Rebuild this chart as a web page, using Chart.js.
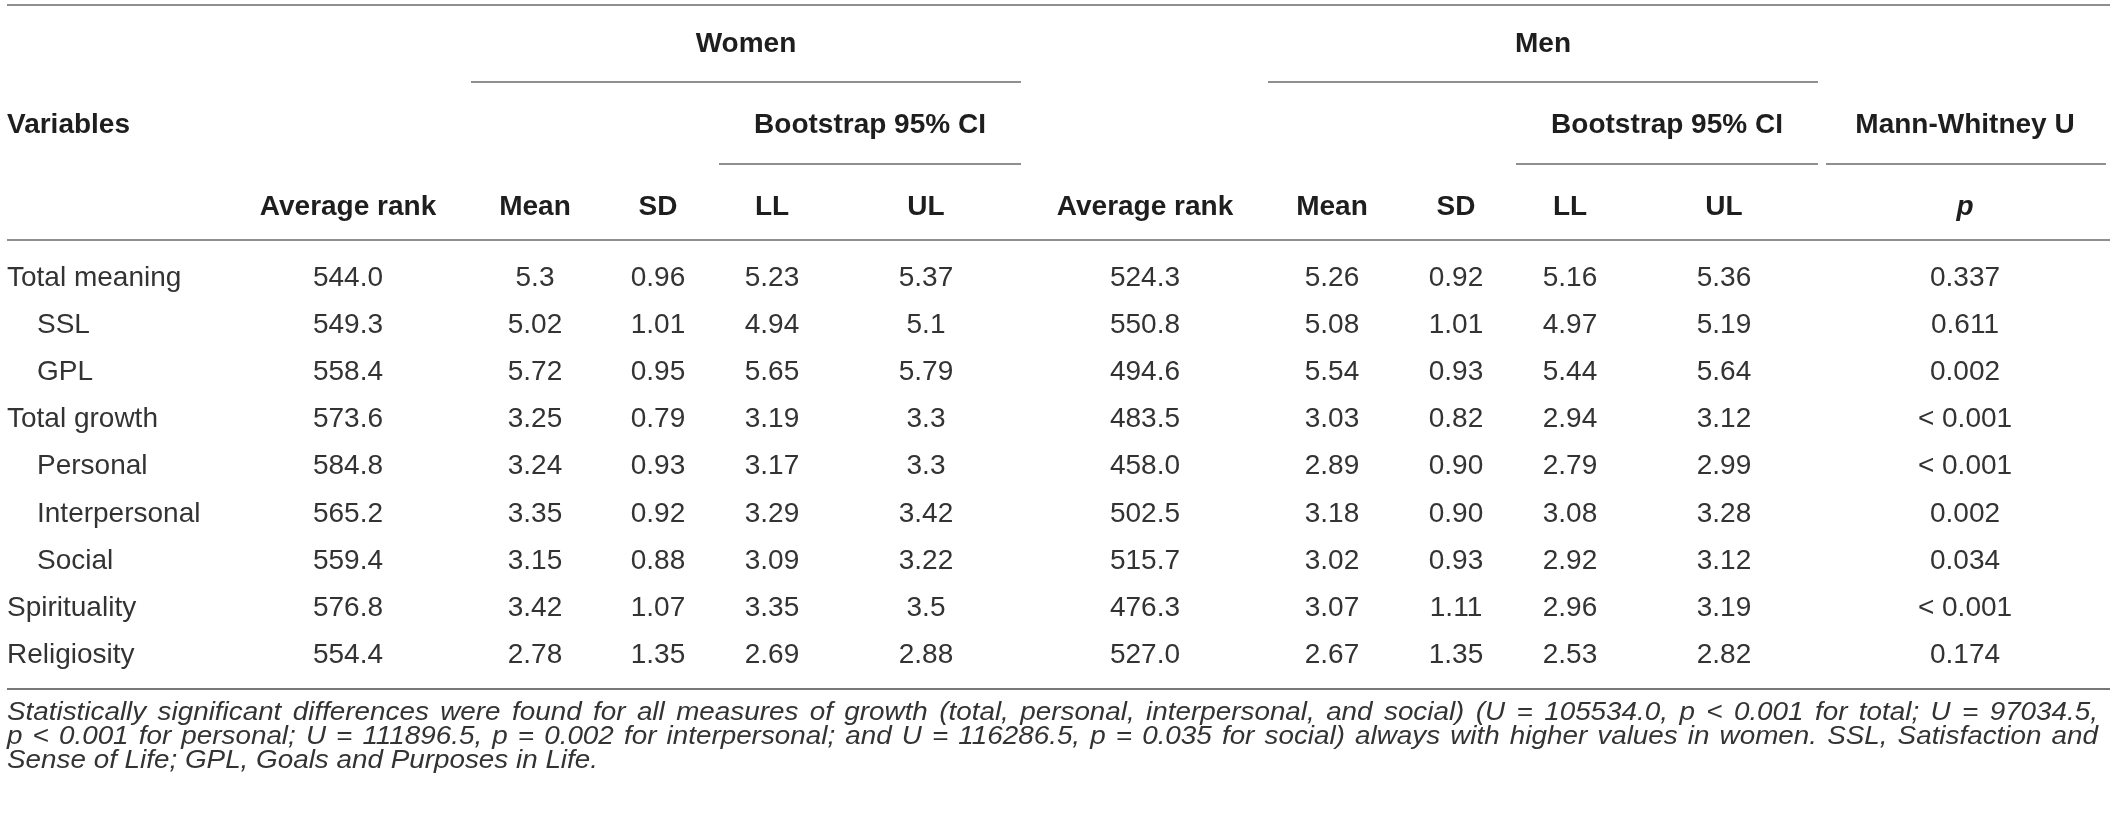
<!DOCTYPE html>
<html>
<head>
<meta charset="utf-8">
<script src="https://cdn.jsdelivr.net/npm/chart.js@4.4.1/dist/chart.umd.min.js"></script>
<style>
  html, body { margin: 0; padding: 0; background: #fff; }
  canvas { display: block; }
</style>
</head>
<body>
<canvas id="tbl" width="2119" height="813"></canvas>
<script>
// rows of the table
const rowLabels = ['Total meaning', 'SSL', 'GPL', 'Total growth', 'Personal', 'Interpersonal', 'Social', 'Spirituality', 'Religiosity'];
const subRow = [false, true, true, false, true, true, true, false, false];

// women
const womenRank = [544.0, 549.3, 558.4, 573.6, 584.8, 565.2, 559.4, 576.8, 554.4];
const womenMean = [5.3, 5.02, 5.72, 3.25, 3.24, 3.35, 3.15, 3.42, 2.78];
const womenSD = [0.96, 1.01, 0.95, 0.79, 0.93, 0.92, 0.88, 1.07, 1.35];
const womenLL = [5.23, 4.94, 5.65, 3.19, 3.17, 3.29, 3.09, 3.35, 2.69];
const womenUL = [5.37, 5.1, 5.79, 3.3, 3.3, 3.42, 3.22, 3.5, 2.88];

// men
const menRank = [524.3, 550.8, 494.6, 483.5, 458.0, 502.5, 515.7, 476.3, 527.0];
const menMean = [5.26, 5.08, 5.54, 3.03, 2.89, 3.18, 3.02, 3.07, 2.67];
const menSD = [0.92, 1.01, 0.93, 0.82, 0.90, 0.90, 0.93, 1.11, 1.35];
const menLL = [5.16, 4.97, 5.44, 2.94, 2.79, 3.08, 2.92, 2.96, 2.53];
const menUL = [5.36, 5.19, 5.64, 3.12, 2.99, 3.28, 3.12, 3.19, 2.82];

// Mann-Whitney U
const pValues = ['0.337', '0.611', '0.002', '< 0.001', '< 0.001', '0.002', '0.034', '< 0.001', '0.174'];

const colHeaders = ['Average rank', 'Mean', 'SD', 'LL', 'UL', 'Average rank', 'Mean', 'SD', 'LL', 'UL', 'p'];

const footnote = [
  'Statistically significant differences were found for all measures of growth (total, personal, interpersonal, and social) (U = 105534.0, p < 0.001 for total; U = 97034.5,',
  'p < 0.001 for personal; U = 111896.5, p = 0.002 for interpersonal; and U = 116286.5, p = 0.035 for social) always with higher values in women. SSL, Satisfaction and',
  'Sense of Life; GPL, Goals and Purposes in Life.'
];

// layout (pixels)
const colX = [348, 535, 658, 772, 926, 1145, 1332, 1456, 1570, 1724, 1965];
const FONT = '"Liberation Sans", Arial, Helvetica, sans-serif';
const INK = '#333';
const RULE = '#8f8f8f';

const rank = v => v.toFixed(1);
const plain = v => String(v);
const two = v => v.toFixed(2);

const columns = [
  [womenRank, rank], [womenMean, plain], [womenSD, two], [womenLL, plain], [womenUL, plain],
  [menRank, rank], [menMean, two], [menSD, two], [menLL, plain], [menUL, plain],
  [pValues, plain]
];

const datasets = columns.map(([vals, fmt], j) => ({
  label: colHeaders[j],
  data: vals.map((v, i) => ({ x: colX[j], y: rowLabels[i], text: fmt(v) })),
  pointRadius: 0
}));

function hline(ctx, x1, x2, y) {
  ctx.beginPath();
  ctx.moveTo(x1, y);
  ctx.lineTo(x2, y);
  ctx.stroke();
}

const tablePlugin = {
  id: 'tablePlugin',
  beforeDraw(chart) {
    const ctx = chart.ctx;
    ctx.save();
    ctx.fillStyle = '#fff';
    ctx.fillRect(0, 0, chart.width, chart.height);
    ctx.restore();
  },
  afterDatasetsDraw(chart) {
    const ctx = chart.ctx;
    const y = chart.scales.y;
    ctx.save();

    // rules
    ctx.strokeStyle = RULE;
    ctx.lineWidth = 2;
    hline(ctx, 7, 2110, 5);
    hline(ctx, 471, 1021, 82);
    hline(ctx, 1268, 1818, 82);
    hline(ctx, 719, 1021, 164);
    hline(ctx, 1516, 1818, 164);
    hline(ctx, 1826, 2106, 164);
    hline(ctx, 7, 2110, 240);
    ctx.strokeStyle = '#777';
    hline(ctx, 7, 2110, 689);

    // header
    ctx.fillStyle = '#1e1e1e';
    ctx.textBaseline = 'alphabetic';
    ctx.font = 'bold 28px ' + FONT;
    ctx.textAlign = 'center';
    ctx.fillText('Women', 746, 52);
    ctx.fillText('Men', 1543, 52);
    ctx.fillText('Bootstrap 95% CI', 870, 133);
    ctx.fillText('Bootstrap 95% CI', 1667, 133);
    ctx.fillText('Mann-Whitney U', 1965, 133);
    ctx.textAlign = 'left';
    ctx.fillText('Variables', 7, 133);
    ctx.textAlign = 'center';
    colHeaders.forEach((h, j) => {
      ctx.font = (h === 'p' ? 'italic bold 28px ' : 'bold 28px ') + FONT;
      ctx.fillText(h, colX[j], 215);
    });

    // row labels
    ctx.fillStyle = INK;
    ctx.font = '28px ' + FONT;
    ctx.textAlign = 'left';
    rowLabels.forEach((r, i) => {
      ctx.fillText(r, subRow[i] ? 37 : 7, y.getPixelForValue(i) + 10);
    });

    // cell values
    ctx.textAlign = 'center';
    chart.data.datasets.forEach((ds, j) => {
      chart.getDatasetMeta(j).data.forEach((pt, i) => {
        ctx.fillText(ds.data[i].text, pt.x, pt.y + 10);
      });
    });

    // footnote, justified except the last line
    ctx.font = 'italic 25px ' + FONT;
    ctx.textAlign = 'left';
    const sx = 591 / ctx.measureText(footnote[2]).width;
    const baseY = [720, 744, 768];
    footnote.forEach((line, k) => {
      ctx.save();
      ctx.translate(7, baseY[k]);
      if (k < 2) {
        const words = line.split(' ');
        const ws = words.map(w => ctx.measureText(w).width);
        const sum = ws.reduce((a, b) => a + b, 0);
        const target = 2091;
        let s = sx;
        const minGap = ctx.measureText(' ').width * 0.6;
        if (sum * s + minGap * (words.length - 1) > target) s = (target - minGap * (words.length - 1)) / sum;
        const gap = (target - sum * s) / (words.length - 1);
        let x = 0;
        words.forEach((w, i) => {
          ctx.save();
          ctx.translate(x, 0);
          ctx.scale(s, 1);
          ctx.fillText(w, 0, 0);
          ctx.restore();
          x += ws[i] * s + gap;
        });
      } else {
        ctx.scale(sx, 1);
        ctx.fillText(line, 0, 0);
      }
      ctx.restore();
    });

    ctx.restore();
  }
};

new Chart(document.getElementById('tbl'), {
  type: 'scatter',
  data: { datasets: datasets },
  options: {
    responsive: false,
    devicePixelRatio: 1,
    animation: false,
    events: [],
    layout: { padding: { top: 252.5, bottom: 136.6, left: 0, right: 0 } },
    plugins: { legend: { display: false }, tooltip: { enabled: false } },
    scales: {
      x: { type: 'linear', min: 0, max: 2119, display: false },
      y: { type: 'category', labels: rowLabels, offset: true, display: false }
    }
  },
  plugins: [tablePlugin]
});
</script>
</body>
</html>
